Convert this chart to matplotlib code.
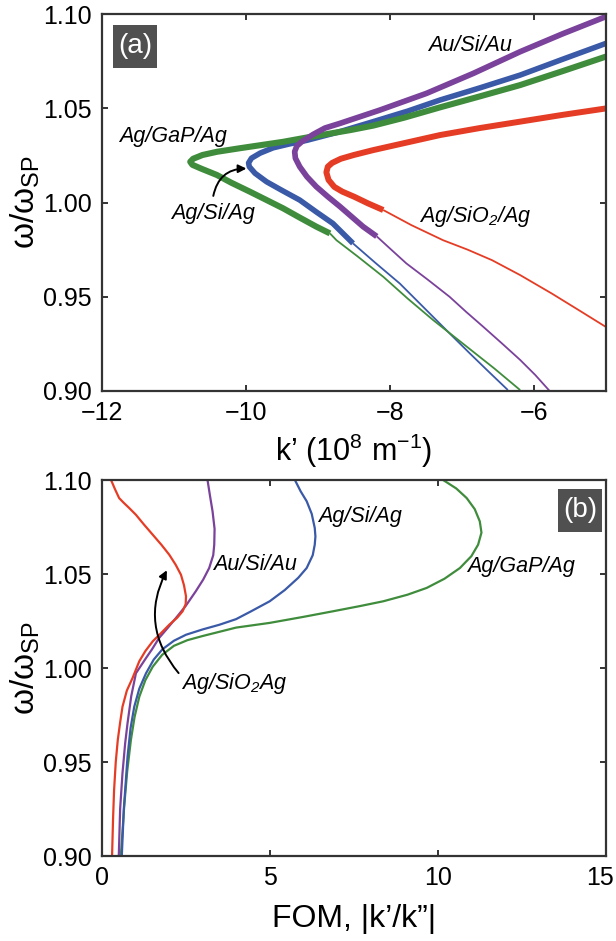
import matplotlib.pyplot as plt
from matplotlib.patches import Rectangle
from matplotlib.transforms import ScaledTranslation

plt.rcParams['font.family'] = ['Liberation Sans', 'DejaVu Sans']
plt.rcParams['mathtext.fontset'] = 'custom'
plt.rcParams['mathtext.rm'] = 'Liberation Sans'
plt.rcParams['mathtext.it'] = 'Liberation Sans:italic'

# colours of the four waveguides
c_gap = '#3f8c3c'
c_si = '#3a5aa8'
c_au = '#7b429b'
c_sio2 = '#e53d25'

# (a) dispersion k' vs w/wsp, ordered by increasing frequency
k_gap = [-6.19, -6.55, -6.93, -7.40, -7.75, -8.09, -8.45, -8.74, -8.83, -9.02, -9.25, -9.48, -9.72,
         -9.94, -10.20, -10.40, -10.62, -10.74, -10.77, -10.73, -10.60, -10.40, -10.08, -9.78,
         -9.48, -9.15, -8.55, -8.23, -7.80, -7.30, -6.75, -6.19, -5.60, -5.00]
w_gap = [0.9005, 0.9120, 0.9235, 0.9377, 0.9490, 0.9606, 0.9715, 0.9800, 0.9836, 0.9872, 0.9920, 0.9969,
         1.0015, 1.0057, 1.0105, 1.0146, 1.0180, 1.0200, 1.0216, 1.0232, 1.0252, 1.0269, 1.0288, 1.0305,
         1.0322, 1.0345, 1.0384, 1.0408, 1.0450, 1.0505, 1.0563, 1.0623, 1.0697, 1.0774]
cut_gap = 0.9836

k_si = [-6.36, -6.62, -6.89, -7.17, -7.52, -7.86, -8.20, -8.51, -8.79, -9.02, -9.25, -9.50, -9.71,
        -9.87, -9.95, -9.96, -9.92, -9.80, -9.62, -9.40, -9.15, -8.70, -8.23, -7.75, -7.30, -6.75,
        -6.19, -5.60, -5.00]
w_si = [0.9005, 0.9100, 0.9200, 0.9306, 0.9440, 0.9570, 0.9680, 0.9783, 0.9889, 0.9950, 1.0013, 1.0065,
        1.0110, 1.0155, 1.0190, 1.0210, 1.0235, 1.0262, 1.0290, 1.0310, 1.0330, 1.0375, 1.0429, 1.0485,
        1.0544, 1.0608, 1.0676, 1.0760, 1.0844]
cut_si = 0.9783

k_au = [-5.78, -5.98, -6.19, -6.45, -6.70, -6.94, -7.17, -7.47, -7.77, -7.98, -8.18, -8.37, -8.53,
        -8.69, -8.86, -9.02, -9.15, -9.25, -9.31, -9.32, -9.29, -9.22, -9.06, -8.90, -8.69, -8.14,
        -7.49, -6.84, -6.19, -5.60, -5.00]
w_au = [0.9000, 0.9085, 0.9165, 0.9255, 0.9340, 0.9420, 0.9500, 0.9590, 0.9677, 0.9750, 0.9820, 0.9872,
        0.9925, 0.9978, 1.0031, 1.0084, 1.0137, 1.0190, 1.0235, 1.0270, 1.0300, 1.0323, 1.0362, 1.0395,
        1.0420, 1.0490, 1.0579, 1.0685, 1.0800, 1.0895, 1.0986]
cut_au = 0.9820

k_sio2 = [-5.00, -5.38, -5.75, -6.19, -6.58, -6.92, -7.26, -7.70, -8.09, -8.30, -8.49, -8.66, -8.77,
          -8.85, -8.88, -8.86, -8.80, -8.68, -8.50, -8.23, -7.80, -7.30, -6.75, -6.19, -5.60, -5.00]
w_sio2 = [0.9340, 0.9430, 0.9517, 0.9615, 0.9694, 0.9750, 0.9800, 0.9880, 0.9960, 0.9995, 1.0030, 1.0058,
          1.0083, 1.0120, 1.0160, 1.0190, 1.0210, 1.0232, 1.0252, 1.0278, 1.0315, 1.0358, 1.0395, 1.0429,
          1.0465, 1.0499]
cut_sio2 = 0.9960

# (b) figure of merit |k'/k''| vs w/wsp
fom_gap = [0.57, 0.62, 0.67, 0.76, 0.87, 0.98, 1.12, 1.30, 1.52, 1.80, 2.15, 2.55, 3.00, 4.00, 5.00,
           6.00, 6.89, 7.70, 8.38, 9.10, 9.67, 10.20, 10.66, 11.00, 11.20, 11.30, 11.25, 11.10, 10.86,
           10.55, 10.16]
fw_gap = [0.9000, 0.9130, 0.9262, 0.9450, 0.9617, 0.9740, 0.9847, 0.9935, 1.0007, 1.0070, 1.0118,
          1.0148, 1.0170, 1.0215, 1.0240, 1.0272, 1.0302, 1.0330, 1.0355, 1.0390, 1.0426, 1.0475,
          1.0532, 1.0595, 1.0656, 1.0720, 1.0780, 1.0845, 1.0904, 1.0955, 1.1000]

fom_si = [0.60, 0.66, 0.77, 0.86, 0.97, 1.12, 1.32, 1.55, 1.81, 2.15, 2.51, 3.00, 3.50, 4.00, 4.45,
          5.00, 5.45, 5.85, 6.10, 6.28, 6.34, 6.36, 6.34, 6.25, 6.10, 5.92, 5.75]
fw_si = [0.9000, 0.9250, 0.9528, 0.9680, 0.9794, 0.9890, 0.9972, 1.0045, 1.0100, 1.0145, 1.0177,
         1.0205, 1.0230, 1.0260, 1.0302, 1.0355, 1.0415, 1.0480, 1.0532, 1.0600, 1.0656, 1.0700,
         1.0745, 1.0820, 1.0887, 1.0940, 1.1000]

fom_au = [0.51, 0.55, 0.62, 0.70, 0.77, 0.88, 1.02, 1.32, 1.50, 1.71, 1.95, 2.21, 2.50, 2.80, 3.02,
          3.20, 3.32, 3.35, 3.36, 3.30, 3.22, 3.15]
fw_au = [0.9000, 0.9250, 0.9440, 0.9600, 0.9706, 0.9850, 0.9972, 1.0053, 1.0100, 1.0160, 1.0210,
         1.0266, 1.0330, 1.0408, 1.0470, 1.0532, 1.0600, 1.0656, 1.0740, 1.0833, 1.0920, 1.1000]

fom_sio2 = [0.31, 0.34, 0.37, 0.42, 0.48, 0.55, 0.62, 0.75, 0.92, 1.12, 1.30, 1.52, 1.78, 2.01, 2.25,
            2.41, 2.50, 2.51, 2.45, 2.36, 2.20, 2.01, 1.78, 1.52, 1.25, 1.02, 0.82, 0.65, 0.52, 0.40,
            0.28]
fw_sio2 = [0.9000, 0.9200, 0.9350, 0.9500, 0.9617, 0.9710, 0.9794, 0.9880, 0.9947, 1.0036, 1.0090,
           1.0142, 1.0188, 1.0230, 1.0268, 1.0302, 1.0340, 1.0381, 1.0440, 1.0496, 1.0550, 1.0603,
           1.0655, 1.0709, 1.0765, 1.0815, 1.0851, 1.0880, 1.0904, 1.0950, 1.1000]

tick_fs = 18
note_fs = 15.5


def style(ax):
    for s in ax.spines.values():
        s.set_linewidth(1.6)
        s.set_color('#333333')
    ax.tick_params(direction='in', top=True, right=True, length=4, width=1.4,
                   color='#333333', labelsize=tick_fs, pad=7)
    ax.set_ylim(0.90, 1.10)
    ax.set_yticks([0.90, 0.95, 1.00, 1.05, 1.10])
    ax.set_yticklabels(['0.90', '0.95', '1.00', '1.05', '1.10'])
    ax.set_ylabel('ω/ω$_{\\mathregular{SP}}$', fontsize=24, labelpad=1)


def panel_tag(ax, x0, y0, text):
    ax.add_patch(Rectangle((x0, y0), 0.088, 0.115, transform=ax.transAxes,
                           facecolor='#505050', edgecolor='none', zorder=5))
    ax.text(x0 + 0.044, y0 + 0.0575, text, transform=ax.transAxes, color='white',
            fontsize=20, ha='center', va='center', zorder=6)


def split_plot(ax, k, w, cut, color, lw_thick):
    thin_k = [a for a, b in zip(k, w) if b <= cut]
    thin_w = [b for b in w if b <= cut]
    thick_k = [a for a, b in zip(k, w) if b >= cut]
    thick_w = [b for b in w if b >= cut]
    ax.plot(thin_k, thin_w, color=color, lw=1.3, solid_capstyle='butt')
    ax.plot(thick_k, thick_w, color=color, lw=lw_thick, solid_joinstyle='round',
            solid_capstyle='butt')


fig = plt.figure(figsize=(6.16, 9.41), dpi=100)

# ---- (a) dispersion ----
ax1 = fig.add_axes([0.165, 0.5845, 0.8185, 0.4006])
split_plot(ax1, k_si, w_si, cut_si, c_si, 4.0)
split_plot(ax1, k_gap, w_gap, cut_gap, c_gap, 4.4)
split_plot(ax1, k_au, w_au, cut_au, c_au, 4.1)
split_plot(ax1, k_sio2, w_sio2, cut_sio2, c_sio2, 4.3)
ax1.set_xlim(-12, -5)
ax1.set_xticks([-12, -10, -8, -6])
style(ax1)
ax1.set_xlabel('k’ (10$^{\\mathregular{8}}$ m$^{\\mathregular{-1}}$)', fontsize=22, labelpad=5)

ax1.text(-11.01, 1.0349, 'Ag/GaP/Ag', style='italic', fontsize=note_fs, ha='center', va='center')
ax1.text(-10.45, 0.9944, 'Ag/Si/Ag', style='italic', fontsize=note_fs, ha='center', va='center')
ax1.text(-6.89, 1.0835, 'Au/Si/Au', style='italic', fontsize=note_fs, ha='center', va='center')
ax1.text(-6.82, 0.9927, 'Ag/SiO$_{\\mathregular{2}}$/Ag', style='italic', fontsize=note_fs,
         ha='center', va='center')
ax1.annotate('', xy=(-9.99, 1.018), xytext=(-10.45, 1.0035),
             arrowprops=dict(arrowstyle='-|>', connectionstyle='arc3,rad=-0.4',
                             lw=1.4, color='k', mutation_scale=12, shrinkA=0, shrinkB=0))
panel_tag(ax1, 0.0224, 0.857, '(a)')

# ---- (b) figure of merit ----
ax2 = fig.add_axes([0.165, 0.0903, 0.8185, 0.3996])
ax2.plot(fom_gap, fw_gap, color=c_gap, lw=1.6)
ax2.plot(fom_si, fw_si, color=c_si, lw=1.6)
ax2.plot(fom_au, fw_au, color=c_au, lw=1.6)
ax2.plot(fom_sio2, fw_sio2, color=c_sio2, lw=1.6)
ax2.set_xlim(0, 15)
ax2.set_xticks([0, 5, 10, 15])
style(ax2)
ax2.set_xlabel('FOM, |k’/k”|', fontsize=23, labelpad=10)
# keep the last tick label inside the figure
last = ax2.get_xticklabels()[-1]
last.set_transform(last.get_transform() + ScaledTranslation(-6 / 100, 0, fig.dpi_scale_trans))

ax2.text(7.68, 1.0807, 'Ag/Si/Ag', style='italic', fontsize=note_fs, ha='center', va='center')
ax2.text(4.56, 1.0550, 'Au/Si/Au', style='italic', fontsize=note_fs, ha='center', va='center')
ax2.text(12.47, 1.0540, 'Ag/GaP/Ag', style='italic', fontsize=note_fs, ha='center', va='center')
ax2.text(3.94, 0.9920, 'Ag/SiO$_{\\mathregular{2}}$Ag', style='italic', fontsize=note_fs,
         ha='center', va='center')
ax2.annotate('', xy=(1.94, 1.052), xytext=(2.29, 0.9973),
             arrowprops=dict(arrowstyle='-|>', connectionstyle='arc3,rad=-0.33',
                             lw=1.4, color='k', mutation_scale=12, shrinkA=0, shrinkB=0))
panel_tag(ax2, 0.905, 0.862, '(b)')

fig.savefig('out.png', dpi=100)
